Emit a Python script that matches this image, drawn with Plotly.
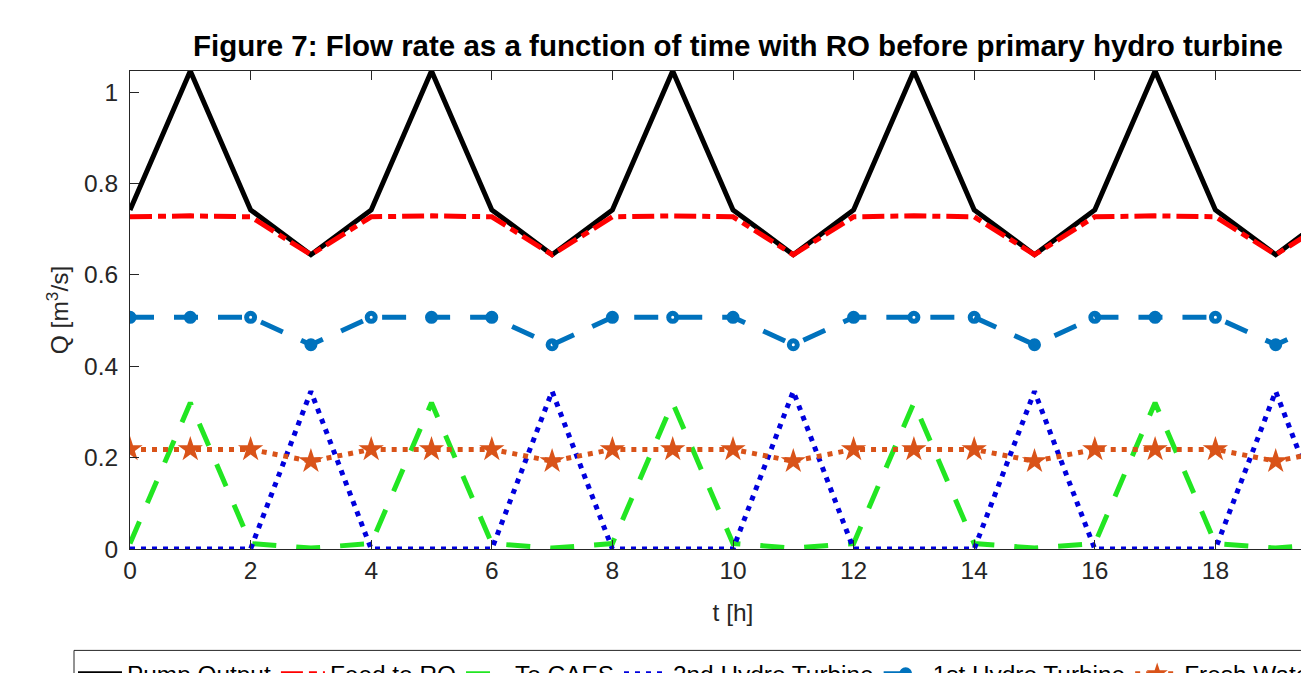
import plotly.graph_objects as go

# ---- data ----
t_hours = [0, 1, 2, 3, 4, 5, 6, 7, 8, 9, 10, 11, 12, 13, 14, 15, 16, 17, 18, 19, 20]
pump_output = [0.742, 1.046, 0.742, 0.644, 0.742, 1.046, 0.742, 0.644, 0.742, 1.046, 0.742,
               0.644, 0.742, 1.046, 0.742, 0.644, 0.742, 1.046, 0.742, 0.644, 0.742]
feed_to_ro = [0.727, 0.729, 0.727, 0.644, 0.727, 0.729, 0.727, 0.644, 0.727, 0.729, 0.727,
              0.644, 0.727, 0.729, 0.727, 0.644, 0.727, 0.729, 0.727, 0.644, 0.727]
to_caes = [0.012, 0.32, 0.012, 0.002, 0.012, 0.32, 0.012, 0.002, 0.012, 0.32, 0.012,
           0.002, 0.012, 0.32, 0.012, 0.002, 0.012, 0.32, 0.012, 0.002, 0.012]
hydro_2nd = [0.0, 0.0, 0.0, 0.345, 0.0, 0.0, 0.0, 0.345, 0.0, 0.0, 0.0,
             0.345, 0.0, 0.0, 0.0, 0.345, 0.0, 0.0, 0.0, 0.345, 0.0]
hydro_1st = [0.507, 0.507, 0.507, 0.447, 0.507, 0.507, 0.507, 0.447, 0.507, 0.507, 0.507,
             0.447, 0.507, 0.507, 0.507, 0.447, 0.507, 0.507, 0.507, 0.447, 0.507]
fresh_water = [0.218, 0.218, 0.218, 0.192, 0.218, 0.218, 0.218, 0.192, 0.218, 0.218, 0.218,
               0.192, 0.218, 0.218, 0.218, 0.192, 0.218, 0.218, 0.218, 0.192, 0.218]

x_ticks = [0, 2, 4, 6, 8, 10, 12, 14, 16, 18, 20]
y_ticks = [0, 0.2, 0.4, 0.6, 0.8, 1]

FONT = "Arial, Liberation Sans, Helvetica, sans-serif"
AX = "#262626"

W, H = 1420, 720
ML, MR, MT, MB = 130, 84, 71, 170.5
plot_h = H - MT - MB
plot_w = W - ML - MR
bottom_px = MT + plot_h


def px_to_paper_x(px):
    return (px - ML) / plot_w


def px_to_paper_y(py):
    return (bottom_px - py) / plot_h


fig = go.Figure()
fig.add_trace(go.Scatter(x=t_hours, y=pump_output, name="Pump Output", mode="lines",
                         line=dict(color="black", width=5)))
fig.add_trace(go.Scatter(x=t_hours, y=feed_to_ro, name="Feed to RO", mode="lines",
                         line=dict(color="#FF0000", width=5, dash="22px,6px,8px,6px")))
fig.add_trace(go.Scatter(x=t_hours, y=to_caes, name="To CAES", mode="lines",
                         line=dict(color="#22E622", width=5, dash="24px,20px")))
fig.add_trace(go.Scatter(x=t_hours, y=hydro_2nd, name="2nd Hydro Turbine", mode="lines",
                         line=dict(color="#0000DD", width=5, dash="5px,6px")))
fig.add_trace(go.Scatter(x=t_hours, y=hydro_1st, name="1st Hydro Turbine", mode="lines+markers",
                         line=dict(color="#0072BD", width=5, dash="24px,20px"),
                         marker=dict(symbol="circle-open", size=8, color="#0072BD",
                                     line=dict(width=5, color="#0072BD"))))
fig.add_trace(go.Scatter(x=t_hours, y=fresh_water, name="Fresh Water", mode="lines+markers",
                         line=dict(color="#D95319", width=5, dash="5px,6px"),
                         marker=dict(symbol="star", size=19, color="#D95319",
                                     line=dict(width=0))))

# legend frame (MATLAB-style box), the legend itself sits inside it
fig.add_shape(type="rect", xref="paper", yref="paper",
              x0=px_to_paper_x(74), x1=px_to_paper_x(1405),
              y0=px_to_paper_y(651), y1=px_to_paper_y(712),
              line=dict(color=AX, width=1), fillcolor="white", layer="above")

fig.update_layout(
    width=W, height=H,
    margin=dict(l=ML, r=MR, t=MT, b=MB, autoexpand=False),
    paper_bgcolor="white", plot_bgcolor="white",
    font=dict(family=FONT, size=24.5, color=AX),
    title=dict(text="<b>Figure 7: Flow rate as a function of time with RO before primary hydro turbine</b>",
               x=px_to_paper_x(738), xref="paper", y=1 - 46 / H, yref="container", yanchor="middle",
               xanchor="center", font=dict(family=FONT, size=29.5, color="black")),
    showlegend=True,
    legend=dict(orientation="h", x=px_to_paper_x(73), xanchor="left",
                y=px_to_paper_y(652), yanchor="top",
                bgcolor="rgba(0,0,0,0)", borderwidth=0,
                font=dict(family=FONT, size=24.4, color="black"),
                itemwidth=44, tracegroupgap=0, traceorder="normal"),
)

fig.update_xaxes(range=[0, 20], tickvals=x_ticks, ticks="inside", ticklen=9, tickwidth=1,
                 tickcolor=AX, showline=True, linecolor=AX, linewidth=1, mirror="ticks",
                 showgrid=False, zeroline=False, tickfont=dict(size=24.5, color=AX),
                 title=dict(text="t [h]", standoff=20, font=dict(size=24.5, color=AX)))
fig.update_yaxes(range=[0, 1.046], tickvals=y_ticks, ticks="inside", ticklen=9, tickwidth=1,
                 tickcolor=AX, showline=True, linecolor=AX, linewidth=1, mirror="ticks",
                 showgrid=False, zeroline=False, tickfont=dict(size=24.5, color=AX),
                 ticklabelstandoff=6,
                 title=dict(text="Q [m<sup>3</sup>/s]", standoff=8, font=dict(size=24.5, color=AX)))

fig.write_html("out.html", config={"displayModeBar": False},
               post_script="document.documentElement.style.overflow='hidden';"
                           "document.body.style.overflow='hidden';document.body.style.margin='0';")
